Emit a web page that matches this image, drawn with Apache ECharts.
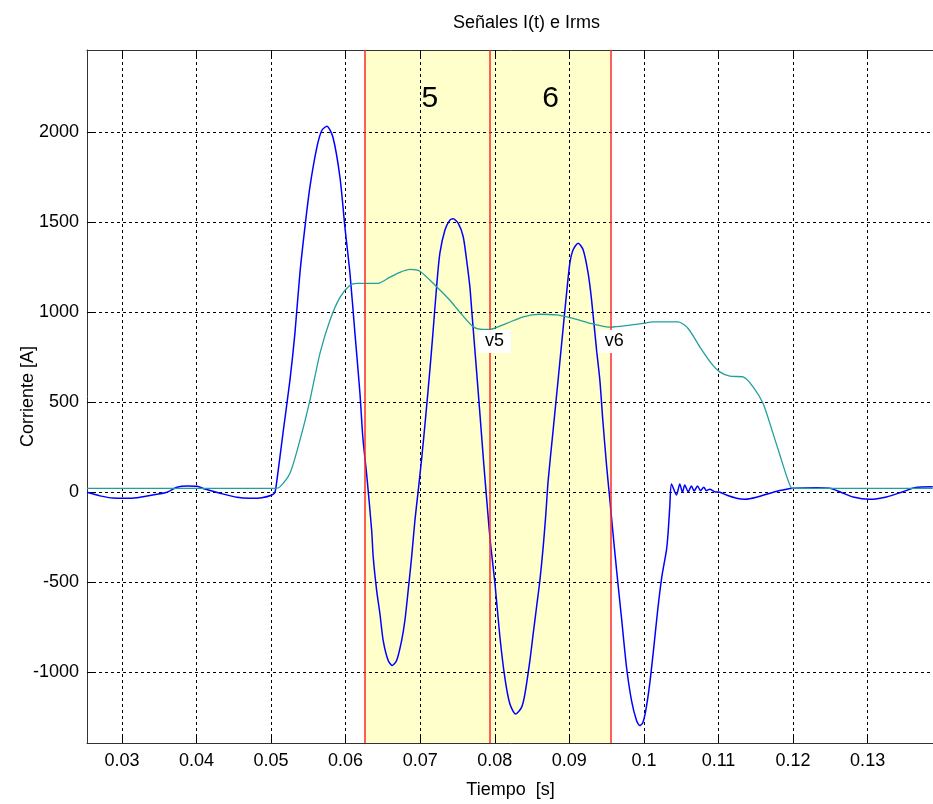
<!DOCTYPE html>
<html>
<head>
    <meta charset="utf-8">
    <title>Señales I(t) e Irms</title>
    <script src="https://cdn.jsdelivr.net/npm/echarts@6.0.0/dist/echarts.min.js"></script>
    <style>
        html, body { margin: 0; padding: 0; background: #fff; }
        #grafico { width: 933px; height: 804px; }
    </style>
</head>
<body>
<div id="grafico"></div>

<script type="text/javascript">
    // corriente instantanea I(t) [s, A]
    var tiempoI = [0.02532, 0.02706, 0.02881, 0.03042, 0.03202, 0.03377, 0.03605, 0.03739, 0.03873, 0.04007,
        0.04114, 0.04315, 0.04543, 0.04717, 0.04878, 0.05012, 0.05052, 0.05079, 0.05160, 0.05253,
        0.05320, 0.05387, 0.05454, 0.05521, 0.05615, 0.05682, 0.05749, 0.05830, 0.05924, 0.05991,
        0.06058, 0.06125, 0.06192, 0.06232, 0.06286, 0.06349, 0.06370, 0.06416, 0.06460, 0.06504,
        0.06571, 0.06625, 0.06684, 0.06751, 0.06795, 0.06839, 0.06885, 0.06929, 0.06973, 0.07023,
        0.07076, 0.07130, 0.07170, 0.07220, 0.07264, 0.07331, 0.07398, 0.07442, 0.07509, 0.07576,
        0.07622, 0.07666, 0.07693, 0.07747, 0.07800, 0.07854, 0.07912, 0.07944, 0.08001, 0.08068,
        0.08135, 0.08202, 0.08279, 0.08359, 0.08404, 0.08471, 0.08515, 0.08560, 0.08605, 0.08649,
        0.08685, 0.08716, 0.08779, 0.08846, 0.08900, 0.08963, 0.09007, 0.09051, 0.09118, 0.09185,
        0.09252, 0.09298, 0.09365, 0.09409, 0.09449, 0.09499, 0.09543, 0.09579, 0.09633, 0.09700,
        0.09767, 0.09834, 0.09901, 0.09945, 0.09985, 0.10026, 0.10079, 0.10133, 0.10186, 0.10240,
        0.10303, 0.10324, 0.10347, 0.10370, 0.10437, 0.10481, 0.10517, 0.10548, 0.10593, 0.10638,
        0.10673, 0.10719, 0.10759, 0.10803, 0.10839, 0.10883, 0.10950, 0.11017, 0.11107, 0.11241,
        0.11353, 0.11509, 0.11755, 0.11912, 0.12000, 0.12314, 0.12492, 0.12626, 0.12804, 0.13028,
        0.13252, 0.13475, 0.13631, 0.13873];
    var corrienteI = [0, -20, -32, -33, -30, -18, 0, 28, 35, 33,
        18, -5, -28, -33, -30, -15, 0, 67, 328, 622,
        883, 1217, 1472, 1695, 1917, 2011, 2033, 1972, 1750, 1472,
        1217, 883, 550, 300, 83, -211, -360, -545, -675, -824,
        -935, -962, -935, -824, -712, -545, -360, -158, 7, 200,
        430, 680, 880, 1142, 1328, 1456, 1512, 1519, 1495, 1421,
        1291, 1142, 1000, 720, 440, 150, -140, -290, -500, -800,
        -1030, -1175, -1232, -1195, -1121, -935, -787, -639, -490, -305,
        -120, 65, 330, 610, 840, 1106, 1273, 1347, 1384, 1347,
        1217, 1069, 791, 624, 400, 150, -40, -200, -430, -700,
        -972, -1157, -1268, -1296, -1280, -1210, -1060, -860, -650, -470,
        -320, -228, -80, 46, -15, 46, 0, 40, 3, 35,
        7, 35, 9, 28, 9, 17, 3, 0, -15, -33,
        -39, -28, 3, 17, 22, 25, 22, 3, -26, -39,
        -26, 3, 25, 30];

    // valor eficaz Irms
    var tiempoRms = [0.02532, 0.05052, 0.05119, 0.05253, 0.05387, 0.05521, 0.05656, 0.05790, 0.05924, 0.06058,
        0.06152, 0.06433, 0.06594, 0.06728, 0.06862, 0.06996, 0.07220, 0.07398, 0.07532, 0.07711,
        0.07827, 0.07934, 0.08158, 0.08381, 0.08605, 0.08828, 0.09051, 0.09319, 0.09556, 0.09811,
        0.09989, 0.10123, 0.10458, 0.10593, 0.10749, 0.10906, 0.11017, 0.11152, 0.11330, 0.11464,
        0.11598, 0.11732, 0.11845, 0.11933, 0.11992, 0.13873];
    var corrienteRms = [22, 22, 30, 105, 289, 511, 772, 956, 1083, 1150,
        1161, 1161, 1195, 1222, 1238, 1228, 1142, 1067, 1000, 919,
        905, 905, 938, 975, 989, 985, 966, 935, 917, 928,
        938, 947, 947, 910, 808, 715, 669, 645, 641, 586,
        493, 326, 178, 67, 22, 22];

    // limites de las ventanas de calculo (lineas rojas)
    var ventanas = [0.0625, 0.0793, 0.0955];
    var nombresVentana = ['5', '6'];
    var etiquetasV = ['v5', 'v6'];

    var ticksX = [0.03, 0.04, 0.05, 0.06, 0.07, 0.08, 0.09, 0.1, 0.11, 0.12, 0.13];
    var ticksY = [-1000, -500, 0, 500, 1000, 1500, 2000];

    var fuente = '"Liberation Sans", Arial, sans-serif';

    function loadGrafico() {
        var myChart = echarts.init(document.getElementById('grafico'));

        var datosI = tiempoI.map(function (t, i) { return [t, corrienteI[i]]; });
        var datosRms = tiempoRms.map(function (t, i) { return [t, corrienteRms[i]]; });

        var ejeX = {
            type: 'value',
            min: 0.02532,
            max: 0.1389,
            z: 3,
            axisLine: { onZero: false, lineStyle: { color: '#333', width: 1 } },
            axisTick: { inside: true, length: 6, customValues: ticksX, lineStyle: { color: '#000' } },
            splitLine: { show: false }
        };

        myChart.setOption({
            animation: false,
            backgroundColor: '#fff',
            title: {
                text: 'Señales I(t) e Irms',
                left: 448,
                top: 9,
                textStyle: { fontFamily: fuente, fontSize: 18, fontWeight: 'normal', color: '#000' }
            },
            grid: { left: 87, right: -1, top: 50, bottom: 61, outerBoundsMode: 'none', containLabel: false },
            xAxis: [
                echarts.util.merge({
                    position: 'bottom',
                    name: 'Tiempo  [s]',
                    nameLocation: 'middle',
                    nameGap: 38,
                    nameMoveOverlap: false,
                    nameTextStyle: { fontFamily: fuente, fontSize: 18, color: '#000' },
                    axisLabel: {
                        customValues: ticksX,
                        margin: 9,
                        fontFamily: fuente, fontSize: 18, color: '#000',
                        formatter: function (v) { return String(+v.toFixed(2)); }
                    },
                    splitLine: { show: true, lineStyle: { type: [3, 3], color: '#000', width: 1 } }
                }, echarts.util.clone(ejeX), false),
                echarts.util.merge({
                    position: 'top',
                    axisLabel: { show: false }
                }, echarts.util.clone(ejeX), false)
            ],
            yAxis: {
                type: 'value',
                min: -1393,
                max: 2457,
                z: 3,
                name: 'Corriente [A]',
                nameLocation: 'middle',
                nameGap: 50,
                nameMoveOverlap: false,
                nameTextStyle: { fontFamily: fuente, fontSize: 18, color: '#000' },
                axisLine: { onZero: false, lineStyle: { color: '#333', width: 1 } },
                axisTick: { inside: true, length: 6, customValues: ticksY, lineStyle: { color: '#000' } },
                axisLabel: {
                    customValues: ticksY, margin: 8, fontFamily: fuente, fontSize: 18, color: '#000',
                    formatter: function (v) { return String(v); }
                },
                splitLine: { show: true, lineStyle: { type: [3, 3], color: '#000', width: 1 } }
            },
            series: [
                {
                    name: 'I(t)',
                    type: 'line',
                    data: datosI,
                    z: 4,
                    showSymbol: false,
                    smooth: 0.25,
                    lineStyle: { color: '#0000ff', width: 1.5 },
                    markArea: {
                        z: 1,
                        silent: true,
                        itemStyle: { color: '#ffffcc' },
                        data: [[{ xAxis: ventanas[0] }, { xAxis: ventanas[2] }]]
                    },
                    markLine: {
                        z: 6,
                        silent: true,
                        precision: 5,
                        symbol: 'none',
                        label: { show: false },
                        lineStyle: { color: '#ff2a2a', width: 1.5, type: 'solid' },
                        data: ventanas.map(function (v) { return { xAxis: v }; })
                    }
                },
                {
                    name: 'Irms',
                    type: 'line',
                    data: datosRms,
                    z: 4,
                    showSymbol: false,
                    smooth: 0.25,
                    lineStyle: { color: '#20a09c', width: 1.3 },
                    markPoint: {
                        z: 7,
                        silent: true,
                        symbol: 'rect',
                        symbolSize: 1,
                        itemStyle: { color: 'rgba(0,0,0,0)' },
                        label: { show: true, position: 'inside', fontFamily: fuente, color: '#000' },
                        data: [
                            { coord: [0.0713, 2185], label: { formatter: nombresVentana[0], fontSize: 30 } },
                            { coord: [0.0875, 2185], label: { formatter: nombresVentana[1], fontSize: 30 } },
                            {
                                coord: [ventanas[1], 838],
                                label: { formatter: etiquetasV[0], fontSize: 18, offset: [5, 0], backgroundColor: '#fff', padding: [3, 7, 2, 7] }
                            },
                            {
                                coord: [ventanas[2], 838],
                                label: { formatter: etiquetasV[1], fontSize: 18, offset: [4, 0], backgroundColor: '#fff', padding: [3, 7, 2, 7] }
                            }
                        ]
                    }
                }
            ]
        });
    }
    loadGrafico();
</script>
</body>
</html>
